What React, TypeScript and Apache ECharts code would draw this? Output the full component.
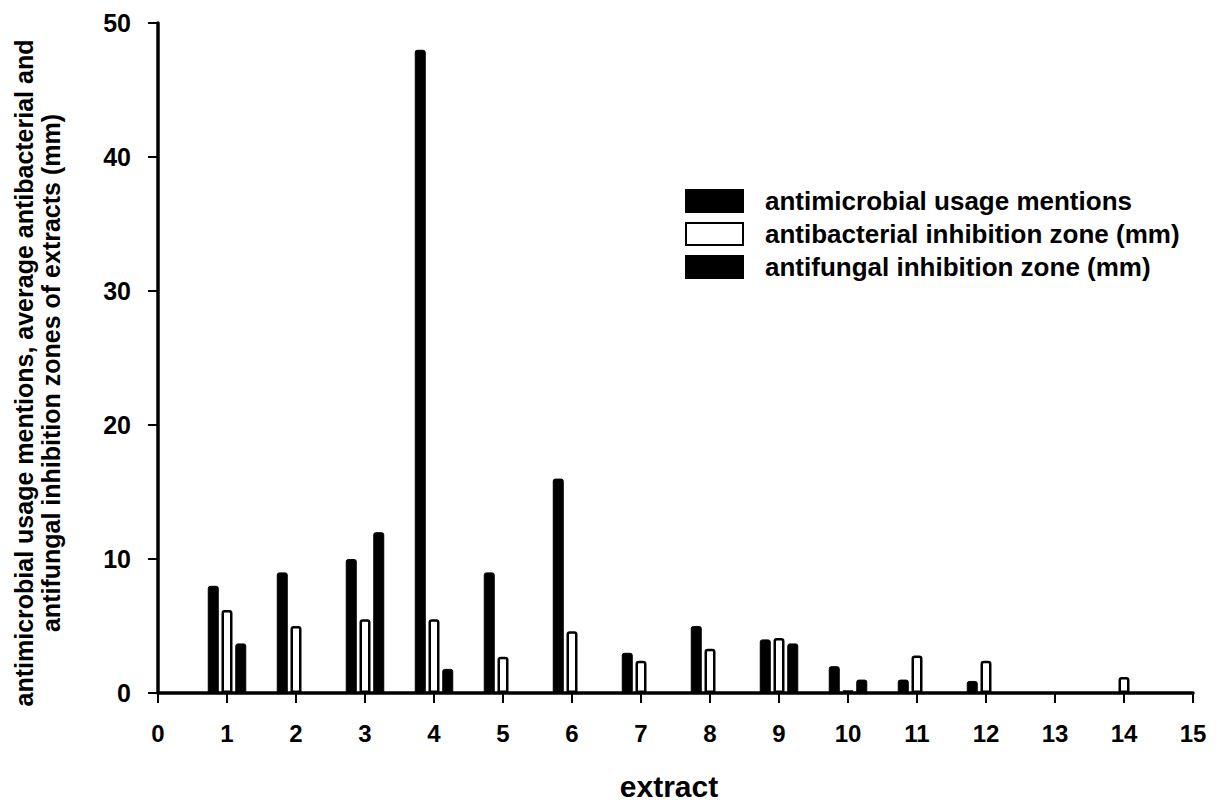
import React, { useEffect, useRef } from "react";
import * as echarts from "echarts";

const extracts = [1, 2, 3, 4, 5, 6, 7, 8, 9, 10, 11, 12, 13, 14];
const usageMentions: (number | null)[] = [8, 9, 10, 48, 9, 16, 3.0, 5.0, 4.0, 2.0, 1.0, 0.9, null, null];
const antibacterialZone: (number | null)[] = [6.2, 5.0, 5.5, 5.5, 2.7, 4.6, 2.4, 3.3, 4.1, 0.2, 2.8, 2.4, null, 1.2];
const antifungalZone: (number | null)[] = [3.7, null, 12, 1.8, null, null, null, null, 3.7, 1.0, null, null, null, null];

const seriesNames = [
  "antimicrobial usage mentions",
  "antibacterial inhibition zone (mm)",
  "antifungal inhibition zone (mm)",
];

const yAxisTitle = "antimicrobial usage mentions, average antibacterial and\nantifungal inhibition zones of extracts (mm)";
const xAxisTitle = "extract";

const FONT = "Liberation Sans, Arial, sans-serif";

export default function App() {
  const ref = useRef<HTMLDivElement>(null);
  useEffect(() => {
    if (!ref.current) return;
    const chart = echarts.init(ref.current, null, { renderer: "svg" });
    const toData = (arr: (number | null)[]) =>
      extracts.map((x, i) => [x, arr[i] == null ? "-" : arr[i]]);
    const barBase = { type: "bar", barWidth: 11, barGap: "25%" };
    chart.setOption({
      animation: false,
      backgroundColor: "#ffffff",
      grid: { left: 158, right: 25, top: 23, bottom: 113, containLabel: false, outerBoundsMode: "none" },
      legend: {
        left: 685,
        top: 188,
        orient: "vertical",
        icon: "rect",
        itemWidth: 57,
        itemHeight: 22,
        itemGap: 7,
        padding: 0,
        selectedMode: false,
        textStyle: {
          fontFamily: FONT,
          fontSize: 26,
          fontWeight: "bold",
          color: "#000",
          lineHeight: 22,
          padding: [0, 0, 0, 17],
        },
        data: seriesNames,
      },
      graphic: [
        {
          type: "text",
          x: 37,
          y: 373,
          rotation: Math.PI / 2,
          style: {
            text: yAxisTitle,
            fontFamily: FONT,
            fontSize: 25,
            fontWeight: "bold",
            lineHeight: 27,
            fill: "#000",
            align: "center",
            verticalAlign: "middle",
          },
        },
        {
          type: "text",
          x: 669,
          y: 786,
          style: {
            text: xAxisTitle,
            fontFamily: FONT,
            fontSize: 30,
            fontWeight: "bold",
            fill: "#000",
            align: "center",
            verticalAlign: "middle",
          },
        },
      ],
      xAxis: {
        type: "value",
        min: 0,
        max: 15,
        interval: 1,
        axisLine: { show: true, lineStyle: { color: "#000", width: 3.5 } },
        axisTick: { show: true, length: 10, lineStyle: { color: "#000", width: 2 } },
        axisLabel: { fontFamily: FONT, fontSize: 24, fontWeight: "bold", color: "#000", margin: 28 },
        splitLine: { show: false },
      },
      yAxis: {
        type: "value",
        min: 0,
        max: 50,
        interval: 10,
        axisLine: { show: true, lineStyle: { color: "#000", width: 3.5 } },
        axisTick: { show: true, length: 10, lineStyle: { color: "#000", width: 2 } },
        axisLabel: { fontFamily: FONT, fontSize: 25, fontWeight: "bold", color: "#000", margin: 27 },
        splitLine: { show: false },
      },
      series: [
        {
          ...barBase,
          name: seriesNames[0],
          data: toData(usageMentions),
          itemStyle: { color: "#000", borderColor: "#000", borderWidth: 1, borderRadius: [2, 2, 0, 0] },
        },
        {
          ...barBase,
          name: seriesNames[1],
          data: toData(antibacterialZone),
          itemStyle: { color: "#fff", borderColor: "#000", borderWidth: 2.5, borderRadius: [2, 2, 0, 0] },
        },
        {
          ...barBase,
          name: seriesNames[2],
          data: toData(antifungalZone),
          itemStyle: { color: "#000", borderColor: "#000", borderWidth: 1, borderRadius: [2, 2, 0, 0] },
        },
      ],
    });
    return () => chart.dispose();
  }, []);
  return <div ref={ref} style={{ position: "absolute", left: 0, top: 0, width: 1218, height: 806 }} />;
}
